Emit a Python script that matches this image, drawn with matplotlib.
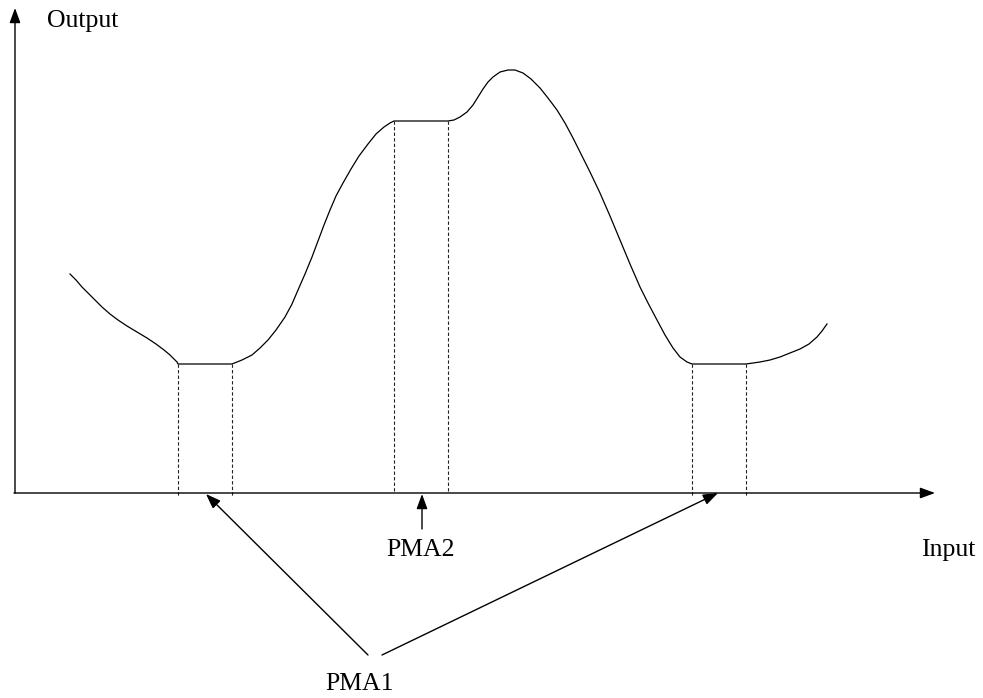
import matplotlib
matplotlib.use("Agg")
import matplotlib.pyplot as plt

# Diagram coordinates (pixel-like units, y grows downward)
curve_x = [70, 76, 82, 88, 95, 102, 110, 118, 127, 137, 147, 156, 164, 170, 174, 177, 178,
           232,
           242, 252, 260, 268, 276, 285, 292, 298, 305, 312, 318, 324, 330, 336, 343, 351, 359,
           368, 376, 384, 390, 394,
           448,
           454, 460, 467, 473, 478, 483, 488, 493, 500, 508, 515, 523, 531, 540, 548, 557, 565,
           573, 580, 590, 600, 610, 620, 630, 640, 648, 657, 665, 673, 680, 687, 692,
           746,
           753, 760, 770, 780, 790, 800, 809, 817, 822, 827]
curve_y = [274, 280, 287, 293, 300, 307, 314, 320, 326, 332, 338, 344, 350, 355, 359, 362, 364,
           364,
           360, 355, 348, 340, 330, 317, 304, 290, 274, 257, 241, 225, 210, 196, 183, 169, 156,
           144, 134, 127, 123, 121,
           121,
           120, 117, 112, 105, 97, 89, 82, 77, 72, 70, 70, 73, 79, 88, 98, 110, 123,
           138, 152, 172, 193, 216, 240, 264, 287, 303, 320, 335, 348, 357, 362, 364,
           364,
           363, 362, 360, 357, 353, 349, 344, 337, 331, 324]

# plateau edges (dashed drop lines) and their levels
drop_x = [178, 232, 394, 448, 692, 746]
drop_top = [364, 364, 121, 121, 364, 364]
drop_bottom = [497, 497, 493, 493, 497, 497]

origin = (15, 493)
x_axis_end = 935
y_axis_end = 8

labels = ["Output", "Input", "PMA2", "PMA1"]

fig = plt.figure(figsize=(9.83, 6.98), dpi=100)
ax = fig.add_axes([0, 0, 1, 1])
ax.set_xlim(0, 983)
ax.set_ylim(698, 0)
ax.axis("off")

font = dict(family="Liberation Serif", fontsize=18.5, color="black")

head = "-|>,head_length=0.6,head_width=0.22"
ap = dict(arrowstyle=head, mutation_scale=15, lw=1.0, color="black",
          shrinkA=0, shrinkB=0)

# axes
ax.annotate("", xy=(origin[0], y_axis_end), xytext=origin, arrowprops=ap)
ax.annotate("", xy=(x_axis_end, origin[1]), xytext=(origin[0] - 1, origin[1]), arrowprops=ap)

# curve
ax.plot(curve_x, curve_y, color="black", lw=0.9, solid_joinstyle="round")

# dashed drop lines
for dx, dt, db in zip(drop_x, drop_top, drop_bottom):
    ax.plot([dx, dx], [dt, db], color="#222222", lw=0.8, linestyle=(0, (3, 2)))

# labels
ax.text(47, 27, labels[0], ha="left", va="baseline", **font)
ax.text(948, 556, labels[1], ha="center", va="baseline", **font)
ax.text(421, 556, labels[2], ha="center", va="baseline", **font)
ax.text(360, 690, labels[3], ha="center", va="baseline", **font)

# PMA2 arrow
ax.annotate("", xy=(422, 494), xytext=(422, 529), arrowprops=ap)
# PMA1 arrows
ax.annotate("", xy=(206, 494), xytext=(368, 655), arrowprops=ap)
ax.annotate("", xy=(718, 493), xytext=(382, 655), arrowprops=ap)

fig.savefig("out.png", dpi=100)
